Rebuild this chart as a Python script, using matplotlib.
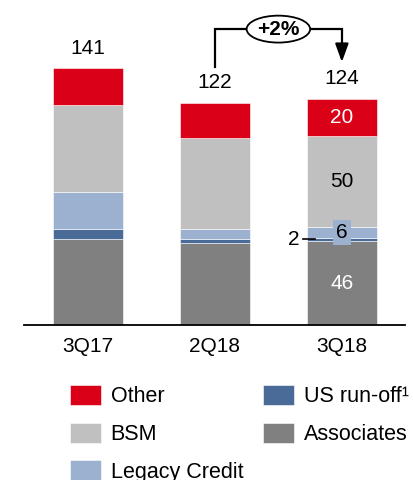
import matplotlib.pyplot as plt
from matplotlib.patches import Ellipse
import numpy as np

plt.rcParams["font.family"] = ["Liberation Sans", "DejaVu Sans"]

quarters = ["3Q17", "2Q18", "3Q18"]
series_names = ["Associates", "US run-off\u00b9", "Legacy Credit", "BSM", "Other"]
associates = [47, 45, 46]
us_runoff = [6, 2, 2]
legacy_credit = [20, 6, 6]
bsm = [48, 50, 50]
other = [20, 19, 20]
totals = [141, 122, 124]
growth_label = "+2%"

colors = {
    "Associates": "#808080",
    "US run-off\u00b9": "#4A6A98",
    "Legacy Credit": "#9CB1D0",
    "BSM": "#C0C0C0",
    "Other": "#DA0017",
}

W, H = 413, 480
fig = plt.figure(figsize=(W / 100, H / 100), dpi=100)
ax = fig.add_axes([24 / W, 155 / H, 381 / W, 325 / H])

x = np.arange(len(quarters))
stack = [associates, us_runoff, legacy_credit, bsm, other]
bottom = np.zeros(len(quarters))
bars = {}
for name, vals in zip(series_names, stack):
    bars[name] = ax.bar(x, vals, bottom=bottom, width=0.55, color=colors[name],
                        edgecolor="white", linewidth=0.4, label=name)
    bottom += np.array(vals)

ax.set_xlim(-0.503, 2.497)
ax.set_ylim(0, 178.6)
for s in ["top", "right", "left"]:
    ax.spines[s].set_visible(False)
ax.spines["bottom"].set_linewidth(1.3)
ax.set_yticks([])
ax.set_xticks(x)
ax.set_xticklabels(quarters, fontsize=15)
ax.tick_params(axis="x", length=0, pad=9)

for xi, t in zip(x, totals):
    ax.text(xi, t + 6, str(t), ha="center", va="bottom", fontsize=15)

# segment labels for 3Q18
i = 2
ax.text(i, associates[i] / 2, str(associates[i]), ha="center", va="center",
        fontsize=15, color="white")
base = associates[i] + us_runoff[i]
ax.text(i, base + legacy_credit[i] / 2, str(legacy_credit[i]), ha="center",
        va="center", fontsize=15, color="black",
        bbox=dict(boxstyle="square,pad=0.15", fc=colors["Legacy Credit"], ec="none"))
base += legacy_credit[i]
ax.text(i, base + bsm[i] / 2, str(bsm[i]), ha="center", va="center", fontsize=15)
base += bsm[i]
ax.text(i, base + other[i] / 2, str(other[i]), ha="center", va="center",
        fontsize=15, color="white")
y_us = associates[i] + us_runoff[i] / 2
ax.plot([i - 0.305, i - 0.21], [y_us + 0.5, y_us + 0.5], color="black", lw=1.2)
ax.text(i - 0.33, y_us, str(us_runoff[i]), ha="right", va="center", fontsize=15)

# growth arrow
y_low, y_top, y_tip = 141.8, 162.6, 144.5
ax.plot([1.0, 1.0, 2.0, 2.0], [y_low, y_top, y_top, y_tip + 6], color="black",
        lw=1.6, clip_on=False, solid_joinstyle="miter")
ax.annotate("", xy=(2.0, y_tip), xytext=(2.0, y_tip + 9),
            arrowprops=dict(arrowstyle="-|>,head_width=0.4,head_length=1.1",
                            color="black", lw=1.6, shrinkA=0, shrinkB=0))
ax.add_patch(Ellipse((1.5, y_top), 0.5, 14.8, fc="white", ec="black", lw=1.3,
                     zorder=3))
ax.text(1.5, y_top, growth_label, ha="center", va="center", fontsize=15,
        fontweight="bold", zorder=4)

handles = [bars[n] for n in ["Other", "BSM", "Legacy Credit", "US run-off\u00b9", "Associates"]]
labels = ["Other", "BSM", "Legacy Credit", "US run-off\u00b9", "Associates"]
fig.legend(handles, labels, ncol=2, loc="upper left",
           bbox_to_anchor=(70 / W, 1 - 385 / H), frameon=False, fontsize=15.5,
           handlelength=1.44, handleheight=1.07, handletextpad=0.45,
           columnspacing=0.93, labelspacing=0.7, borderpad=0, borderaxespad=0)

fig.savefig("out.png", dpi=100)
